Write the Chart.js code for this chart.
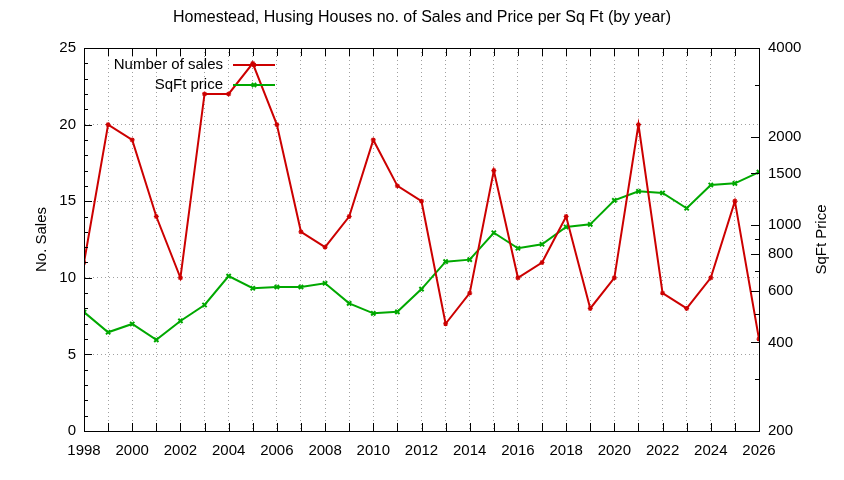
<!DOCTYPE html>
<html>
<head>
<meta charset="utf-8">
<script src="https://cdn.jsdelivr.net/npm/chart.js@4.4.1/dist/chart.umd.min.js"></script>
<style>
html,body{margin:0;padding:0;background:#fff;}
#wrap{width:844px;height:480px;position:relative;}
</style>
</head>
<body>
<div id="wrap"><canvas id="c" width="844" height="480"></canvas></div>
<script>
const years = [1998,1999,2000,2001,2002,2003,2004,2005,2006,2007,2008,2009,2010,2011,2012,2013,2014,2015,2016,2017,2018,2019,2020,2021,2022,2023,2024,2025,2026];
const sales = [11,20,19,14,10,22,22,24,20,13,12,14,19,16,15,7,9,17,10,11,14,8,10,20,9,8,10,15,6];
const sqftPrice = [507,433,462,408,473,536,672,611,617,617,635,543,502,508,607,752,764,943,835,862,986,1007,1215,1304,1287,1142,1370,1388,1516];
const priceTicks = [200,400,600,800,1000,1500,2000,4000];
const priceMinorTicks = [300,500,700,900,3000];
const titleText = "Homestead, Husing Houses no. of Sales and Price per Sq Ft (by year)";
const seriesNames = ["Number of sales","SqFt price"];
const yTitle = "No. Sales";
const y2Title = "SqFt Price";

const RED = '#cc0000', GREEN = '#00a800';
const FONT = "'Liberation Sans', sans-serif";
const FS = 15;

const decor = {
  id:'decor',
  afterDraw(chart){
    const ctx = chart.ctx, a = chart.chartArea;
    const x = chart.scales.x, y = chart.scales.y, y2 = chart.scales.y2;
    ctx.save();
    ctx.strokeStyle = '#000'; ctx.lineWidth = 1;
    ctx.beginPath();
    for (const yr of years) {
      const px = Math.round(x.getPixelForValue(yr)) + 0.5;
      ctx.moveTo(px, a.bottom); ctx.lineTo(px, a.bottom - 8);
      ctx.moveTo(px, a.top); ctx.lineTo(px, a.top + 8);
    }
    for (let v = 0; v <= 25; v++) {
      const py = Math.round(y.getPixelForValue(v)) + 0.5;
      const len = (v % 5 === 0) ? 8 : 4;
      ctx.moveTo(a.left, py); ctx.lineTo(a.left + len, py);
    }
    for (const v of priceTicks) {
      const py = Math.round(y2.getPixelForValue(v)) + 0.5;
      ctx.moveTo(a.right, py); ctx.lineTo(a.right - 8, py);
    }
    for (const v of priceMinorTicks) {
      const py = Math.round(y2.getPixelForValue(v)) + 0.5;
      ctx.moveTo(a.right, py); ctx.lineTo(a.right - 4, py);
    }
    ctx.stroke();
    ctx.strokeRect(Math.round(a.left)+0.5, Math.round(a.top)+0.5, Math.round(a.right-a.left), Math.round(a.bottom-a.top));

    ctx.fillStyle = '#000';
    ctx.textAlign = 'center'; ctx.textBaseline = 'middle';
    ctx.font = "16px " + FONT;
    ctx.fillText(titleText, 422, 18);
    ctx.font = FS + "px " + FONT;

    ctx.save();
    ctx.translate(42, (a.top + a.bottom)/2);
    ctx.rotate(-Math.PI/2);
    ctx.fillText(yTitle, 0, 0);
    ctx.restore();
    ctx.save();
    ctx.translate(822, (a.top + a.bottom)/2);
    ctx.rotate(-Math.PI/2);
    ctx.fillText(y2Title, 0, 0);
    ctx.restore();

    const lx1 = 233, lx2 = 275, tx = 223;
    const rows = [{y:65, c:RED, ds:0},{y:85, c:GREEN, ds:1}];
    ctx.textAlign = 'right';
    rows.forEach((r,i)=>{
      ctx.fillStyle = '#000';
      ctx.fillText(seriesNames[i], tx, r.y);
      ctx.strokeStyle = r.c; ctx.lineWidth = 2;
      ctx.beginPath(); ctx.moveTo(lx1, r.y); ctx.lineTo(lx2, r.y); ctx.stroke();
      const ds = chart.data.datasets[r.ds];
      ctx.fillStyle = r.c;
      ctx.lineWidth = ds.pointBorderWidth;
      Chart.helpers.drawPoint(ctx, {pointStyle: ds.pointStyle, radius: ds.pointRadius, borderWidth: ds.pointBorderWidth}, 254, r.y);
    });
    ctx.restore();
  }
};

new Chart(document.getElementById('c'), {
  type:'line',
  data:{
    datasets:[
      {
        label: seriesNames[0],
        data: years.map((yr,i)=>({x:yr, y:sales[i]})),
        yAxisID:'y',
        borderColor:RED, backgroundColor:RED,
        borderWidth:2, pointStyle:'star', pointRadius:2.5, pointBorderWidth:1.2,
        tension:0
      },
      {
        label: seriesNames[1],
        data: years.map((yr,i)=>({x:yr, y:sqftPrice[i]})),
        yAxisID:'y2',
        borderColor:GREEN, backgroundColor:GREEN,
        borderWidth:2, pointStyle:'crossRot', pointRadius:3, pointBorderWidth:2,
        tension:0
      }
    ]
  },
  options:{
    responsive:false,
    animation:false,
    devicePixelRatio:1,
    layout:{padding:{top:48,left:0,right:0,bottom:0}},
    plugins:{legend:{display:false}, title:{display:false}, tooltip:{enabled:false}},
    scales:{
      x:{
        type:'linear', min:1998, max:2026,
        afterFit(s){ s.height = 49; },
        afterBuildTicks(s){ s.ticks = years.map(v=>({value:v})); },
        ticks:{autoSkip:false, maxRotation:0, padding:11, color:'#000',
          font:{family:FONT, size:FS},
          callback:(v)=> (v % 2 === 0 ? String(v) : '')},
        grid:{color:'#a0a0a0', lineWidth:1, drawTicks:false, tickLength:0},
        border:{display:true, color:'#000', dash:[1,3]}
      },
      y:{
        position:'left', min:0, max:25,
        afterFit(s){ s.width = 84; },
        ticks:{stepSize:5, padding:8, color:'#000', font:{family:FONT, size:FS}},
        grid:{color:'#a0a0a0', lineWidth:1, drawTicks:false, tickLength:0},
        border:{display:true, color:'#000', dash:[1,3]}
      },
      y2:{
        type:'logarithmic', position:'right', min:200, max:4000,
        afterFit(s){ s.width = 85; },
        afterBuildTicks(s){ s.ticks = priceTicks.map(v=>({value:v, major:true})); },
        ticks:{padding:9, color:'#000', font:{family:FONT, size:FS},
          callback:(v)=> String(v)},
        grid:{display:false, drawTicks:false},
        border:{display:true, color:'#000'}
      }
    }
  },
  plugins:[decor]
});
</script>
</body>
</html>
